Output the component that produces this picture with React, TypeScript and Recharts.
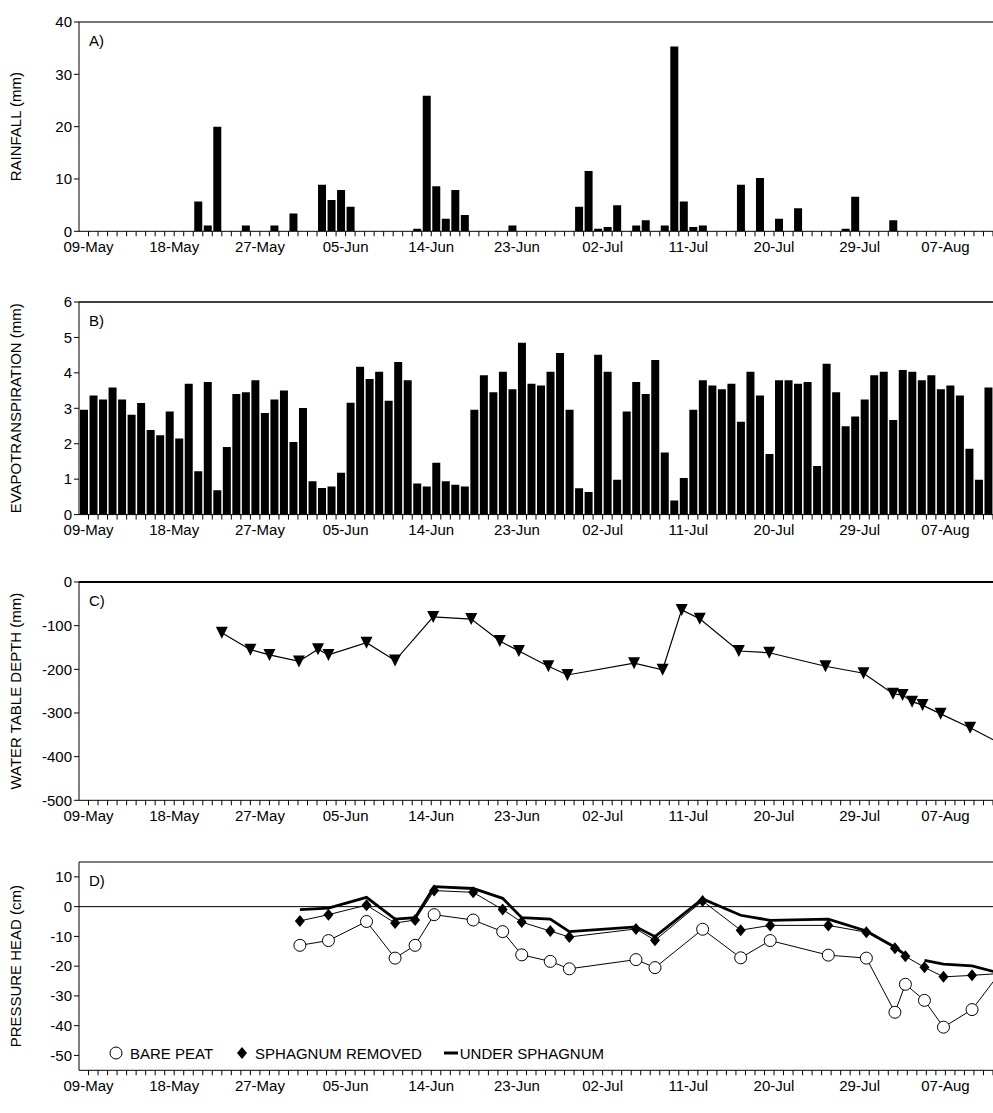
import React from "react";
import {
  ComposedChart,
  Bar,
  Line,
  XAxis,
  YAxis,
  ReferenceLine,
  Legend,
} from "recharts";

const dateLabels = ["09-May", "18-May", "27-May", "05-Jun", "14-Jun", "23-Jun", "02-Jul", "11-Jul", "20-Jul", "29-Jul", "07-Aug"];

// A) rainfall: day index (0 = 09-May) and mm
const rainDays = [11, 12, 13, 16, 19, 21, 24, 25, 26, 27, 34, 35, 36, 37, 38, 39, 44, 51, 52, 53, 54, 55, 57, 58, 60, 61, 62, 63, 64, 68, 70, 72, 74, 79, 80, 84];
const rainMm = [5.7, 1.1, 20, 1.1, 1.1, 3.4, 8.9, 6.0, 7.9, 4.7, 0.5, 25.9, 8.6, 2.4, 7.9, 3.1, 1.1, 4.7, 11.5, 0.5, 0.8, 5.0, 1.1, 2.1, 1.1, 35.3, 5.7, 0.8, 1.1, 8.9, 10.2, 2.4, 4.4, 0.5, 6.6, 2.1];

// B) evapotranspiration, one value per day starting at day -1
const etStartDay = -1;
const etMm = [
  2.96, 3.36, 3.25, 3.59, 3.25, 2.82, 3.15, 2.39, 2.24, 2.91,
  2.15, 3.69, 1.22, 3.74, 0.69, 1.91, 3.40, 3.45, 3.79, 2.87,
  3.25, 3.50, 2.05, 3.01, 0.94, 0.75, 0.79, 1.18, 3.16, 4.17,
  3.83, 4.03, 3.21, 4.31, 3.79, 0.88, 0.79, 1.46, 0.94, 0.84,
  0.79, 2.96, 3.93, 3.45, 4.03, 3.54, 4.85, 3.69, 3.64, 4.03,
  4.56, 2.96, 0.74, 0.64, 4.51, 4.03, 0.98, 2.91, 3.74, 3.40,
  4.36, 1.75, 0.40, 1.03, 2.96, 3.79, 3.64, 3.54, 3.69, 2.62,
  4.03, 3.36, 1.71, 3.79, 3.79, 3.69, 3.74, 1.37, 4.26, 3.45,
  2.49, 2.77, 3.25, 3.93, 4.03, 2.67, 4.08, 4.03, 3.79, 3.93,
  3.54, 3.64, 3.36, 1.86, 0.98, 3.59,
];

// C) water table depth
const wtDays = [14, 17, 19, 22.1, 24.1, 25.2, 29.2, 32.2, 36.2, 40.2, 43.2, 45.2, 48.3, 50.3, 57.3, 60.3, 62.3, 64.2, 68.3, 71.5, 77.4, 81.4, 84.5, 85.5, 86.5, 87.6, 89.5, 92.6, 96.5];
const wtMm = [-116, -155, -167, -182, -154, -167, -139, -180, -80, -85, -135, -158, -193, -213, -186, -201, -64, -84, -158, -162, -193, -209, -256, -259, -274, -282, -302, -334, -378];

// D) pressure head
const phDays = [22.2, 25.2, 29.2, 32.2, 34.3, 36.3, 40.4, 43.5, 45.5, 48.5, 50.5, 57.5, 59.5, 64.5, 68.5, 71.6, 77.7, 81.7, 84.7, 85.8, 86.8, 87.8, 89.8, 92.8, 96.5];
const barePeat = [-13.0, -11.4, -5.0, -17.3, -13.0, -2.7, -4.5, -8.4, -16.2, -18.4, -20.9, -17.8, -20.5, -7.6, -17.2, -11.4, -16.3, -17.3, -35.5, -26.1, null, -31.5, -40.5, -34.6, -19];
const sphagnumRemoved = [-4.8, -2.7, 0.5, -5.5, -4.5, 5.4, 4.8, -1.0, -5.2, -8.2, -10.2, -7.5, -11.3, 1.9, -7.9, -6.3, -6.3, -8.6, -14.0, -16.7, null, -20.4, -23.6, -23.1, -22.3];
const underSphagnum = [-1.0, -0.5, 3.1, -4.2, -3.7, 6.7, 6.1, 2.8, -3.7, -4.2, -8.4, -6.8, -10.1, 2.6, -2.9, -4.6, -4.2, -8.2, -13.6, -16.2, null, -18.1, -19.3, -19.9, -23];

const rainData = rainDays.map((d, i) => ({ x: d + 0.5, v: rainMm[i] }));
const etData = etMm.map((v, i) => ({ x: etStartDay + i + 0.5, v }));
const wtData = wtDays.map((d, i) => ({ x: d, v: wtMm[i] }));
const phData = phDays
  .map((d, i) => ({ x: d, bare: barePeat[i], removed: sphagnumRemoved[i], under: underSphagnum[i] }));

const dayTicks = Array.from({ length: 96 }, (_, i) => i);
const FONT = "'Liberation Sans', Arial, sans-serif";
const tickStyle = { fontSize: 15, fill: "#000", fontFamily: FONT };

const fmtDay = (d: number) => (d % 9 === 0 ? dateLabels[d / 9] : "");

const W = 993;
const MT = 10;

function xAxis() {
  return (
    <XAxis
      type="number"
      dataKey="x"
      domain={[-1, 95]}
      ticks={dayTicks}
      interval={0}
      tickFormatter={fmtDay}
      allowDataOverflow
      stroke="#000"
      tick={{ ...tickStyle, dy: 3 }}
      tickSize={5}
      height={30}
    />
  );
}

function yAxis(domain: number[], ticks: number[], label: string) {
  return (
    <YAxis
      domain={domain}
      ticks={ticks}
      interval={0}
      allowDataOverflow
      stroke="#000"
      tick={tickStyle}
      tickSize={5}
      width={79}
      label={{ value: label, angle: -90, position: "insideLeft", offset: 16, style: { textAnchor: "middle", fontSize: 15, fill: "#000", fontFamily: FONT } }}
    />
  );
}

const Tri = (props: any) => {
  const { cx, cy } = props;
  if (cx == null || cy == null) return null;
  return <polygon points={`${cx - 6},${cy - 6} ${cx + 6},${cy - 6} ${cx},${cy + 6}`} fill="#000" />;
};

const Circ = (props: any) => {
  const { cx, cy, value } = props;
  if (cx == null || cy == null || value == null) return null;
  return <circle cx={cx} cy={cy} r={6} fill="#fff" stroke="#000" strokeWidth={1} />;
};

const Diam = (props: any) => {
  const { cx, cy, value } = props;
  if (cx == null || cy == null || value == null) return null;
  return <polygon points={`${cx},${cy - 6} ${cx + 5},${cy} ${cx},${cy + 6} ${cx - 5},${cy}`} fill="#000" />;
};

const LegendD = () => (
  <div style={{ display: "flex", alignItems: "center", fontFamily: FONT, fontSize: 15, color: "#000" }}>
    <svg width={16} height={16}><circle cx={8} cy={8} r={6} fill="#fff" stroke="#000" /></svg>
    <span style={{ marginLeft: 6, marginRight: 22 }}>BARE PEAT</span>
    <svg width={14} height={16}><polygon points="7,2 12,8 7,14 2,8" fill="#000" /></svg>
    <span style={{ marginLeft: 6, marginRight: 22 }}>SPHAGNUM REMOVED</span>
    <svg width={14} height={16}><line x1={0} y1={8} x2={14} y2={8} stroke="#000" strokeWidth={3} /></svg>
    <span style={{ marginLeft: 2 }}>UNDER SPHAGNUM</span>
  </div>
);

function Panel({ top, tag, children }: { top: number; tag: string; children: React.ReactNode }) {
  return (
    <div style={{ position: "absolute", left: 0, top: top - MT }}>
      {children}
      <div style={{ position: "absolute", left: 89, top: MT + 10, fontFamily: FONT, fontSize: 15 }}>{tag}</div>
    </div>
  );
}

export default function App() {
  const m = { top: MT, right: 0, left: 0, bottom: 0 };
  return (
    <div style={{ position: "absolute", left: 0, top: 0, width: 993, height: 1113, background: "#fff" }}>
      <Panel top={21.7} tag="A)">
        <ComposedChart width={W} height={231 - 21.7 + MT + 30} data={rainData} margin={m}>
          {xAxis()}
          {yAxis([0, 40], [0, 10, 20, 30, 40], "RAINFALL (mm)")}
          <ReferenceLine y={40} stroke="#444" strokeWidth={1.5} />
          <Bar dataKey="v" fill="#000" barSize={8} isAnimationActive={false} />
        </ComposedChart>
      </Panel>
      <Panel top={301.7} tag="B)">
        <ComposedChart width={W} height={514.3 - 301.7 + MT + 30} data={etData} margin={m}>
          {xAxis()}
          {yAxis([0, 6], [0, 1, 2, 3, 4, 5, 6], "EVAPOTRANSPIRATION (mm)")}
          <ReferenceLine y={6} stroke="#000" strokeWidth={1.5} />
          <Bar dataKey="v" fill="#000" barSize={8} isAnimationActive={false} />
        </ComposedChart>
      </Panel>
      <Panel top={581.7} tag="C)">
        <ComposedChart width={W} height={800 - 581.7 + MT + 30} data={wtData} margin={m}>
          {xAxis()}
          {yAxis([-500, 0], [-500, -400, -300, -200, -100, 0], "WATER TABLE DEPTH (mm)")}
          <ReferenceLine y={0} stroke="#000" strokeWidth={2} />
          <Line dataKey="v" stroke="#000" strokeWidth={1.2} dot={<Tri />} isAnimationActive={false} />
        </ComposedChart>
      </Panel>
      <Panel top={861.7} tag="D)">
        <ComposedChart width={W} height={1087 - 861.7 + MT + 30} data={phData} margin={m}>
          {xAxis()}
          {yAxis([-55, 15], [-50, -40, -30, -20, -10, 0, 10], "PRESSURE HEAD (cm)")}
          <ReferenceLine y={15} stroke="#000" strokeWidth={1.2} />
          <ReferenceLine y={0} stroke="#000" strokeWidth={1} />
          <Line dataKey="under" stroke="#000" strokeWidth={2.8} dot={false} connectNulls={false} isAnimationActive={false} />
          <Line dataKey="removed" stroke="#000" strokeWidth={1} dot={<Diam />} connectNulls isAnimationActive={false} />
          <Line dataKey="bare" stroke="#000" strokeWidth={1} dot={<Circ />} connectNulls isAnimationActive={false} />
          <Legend content={<LegendD />} wrapperStyle={{ left: 108, top: 1045 - 861.7 + MT, width: 700 }} />
        </ComposedChart>
      </Panel>
    </div>
  );
}
